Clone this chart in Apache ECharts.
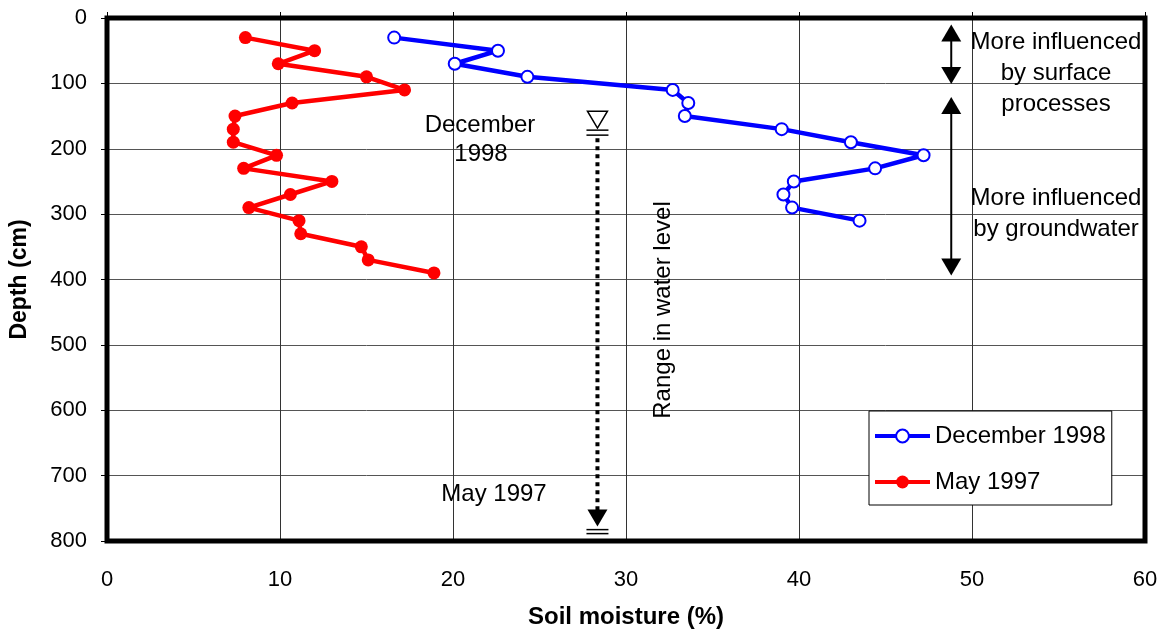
<!DOCTYPE html>
<html>
<head>
<meta charset="utf-8">
<script src="https://cdn.jsdelivr.net/npm/echarts@6/dist/echarts.min.js"></script>
<style>
html,body{margin:0;padding:0;background:#fff;}
#chart{width:1162px;height:634px;}
</style>
</head>
<body>
<div id="chart"></div>
<script>
// ---- data ----
const mayDepths = [30,50,70,90,110,130,150,170,190,210,230,250,270,290,310,330,350,370,390];
const mayMoisture = [8.0,12.0,9.9,15.0,17.2,10.7,7.4,7.3,7.3,9.8,7.9,13.0,10.6,8.2,11.1,11.2,14.7,15.1,18.9];
const decDepths = [30,50,70,90,110,130,150,170,190,210,230,250,270,290,310];
const decMoisture = [16.6,22.6,20.1,24.3,32.7,33.6,33.4,39.0,43.0,47.2,44.4,39.7,39.1,39.6,43.5];
const xTicks = [0,10,20,30,40,50,60];
const yTicks = [0,100,200,300,400,500,600,700,800];
const seriesNames = ['December 1998','May 1997'];
// annotation anchors (data units)
const waterX = 28.35;
const waterDec = 170;
const waterMay = 778;
const arrowX = 48.8;
const surfaceRange = [10, 101];
const groundRange = [121, 394];

const FONT = '"Liberation Sans", Arial, sans-serif';
const chart = echarts.init(document.getElementById('chart'), null, {renderer:'canvas'});

const decData = decDepths.map((d,i)=>[decMoisture[i], d]);
const mayData = mayDepths.map((d,i)=>[mayMoisture[i], d]);

chart.setOption({
  animation:false,
  backgroundColor:'#fff',
  grid:{left:104, right:17, top:18, bottom:89, show:true, borderColor:'#000', borderWidth:5, backgroundColor:'transparent', z:3},
  legend:{
    orient:'vertical', left:869, top:411,
    padding:[13,6,11,4],
    backgroundColor:'#fff', borderColor:'#000', borderWidth:1,
    itemWidth:55, itemHeight:16, itemGap:22,
    lineStyle:{width:4},
    textStyle:{fontFamily:FONT, fontSize:24, color:'#000', lineHeight:24},
    data:seriesNames
  },
  xAxis:[{
    type:'value', min:xTicks[0], max:xTicks[xTicks.length-1], interval:10, position:'bottom',
    axisLine:{show:false}, axisTick:{show:false},
    axisLabel:{fontFamily:FONT, fontSize:22, color:'#000', margin:28},
    splitLine:{show:true, lineStyle:{color:'#333', width:1}},
    name:'Soil moisture (%)', nameLocation:'middle', nameGap:64,
    nameTextStyle:{fontFamily:FONT, fontSize:24, fontWeight:'bold', color:'#000'}
  },{
    type:'value', min:xTicks[0], max:xTicks[xTicks.length-1], interval:10, position:'top',
    axisLine:{show:false}, axisTick:{show:true, length:6, lineStyle:{color:'#000'}},
    axisLabel:{show:false}, splitLine:{show:false}
  }],
  yAxis:{
    type:'value', inverse:true, min:yTicks[0], max:yTicks[yTicks.length-1], interval:100,
    axisLine:{show:false}, axisTick:{show:true, length:6, lineStyle:{color:'#000'}},
    axisLabel:{fontFamily:FONT, fontSize:22, color:'#000', margin:20},
    splitLine:{show:true, lineStyle:{color:'#555', width:1}},
    name:'Depth (cm)', nameLocation:'middle', nameGap:76, nameRotate:90,
    nameTextStyle:{fontFamily:FONT, fontSize:23, fontWeight:'bold', color:'#000'}
  },
  series:[{
    name:seriesNames[0], type:'line', data:decData,
    symbol:'emptyCircle', symbolSize:12, showAllSymbol:true,
    lineStyle:{color:'#0000ff', width:4.5},
    itemStyle:{color:'#0000ff', borderColor:'#0000ff', borderWidth:2.5},
    z:5
  },{
    name:seriesNames[1], type:'line', data:mayData,
    symbol:'circle', symbolSize:13, showAllSymbol:true,
    lineStyle:{color:'#ff0000', width:4.5},
    itemStyle:{color:'#ff0000'},
    z:5
  }]
});

function px(x){ return chart.convertToPixel({xAxisIndex:0}, x); }
function py(y){ return chart.convertToPixel({yAxisIndex:0}, y); }

const g = [];
function text(t, x, y, opts){
  g.push(Object.assign({type:'text', x:x, y:y, z:20,
    style:{text:t, font:'24px '+FONT, fill:'#000', textAlign:'center', textVerticalAlign:'middle'}}, opts||{}));
}
function line(x1,y1,x2,y2,w,dash){
  g.push({type:'line', z:20, shape:{x1:x1,y1:y1,x2:x2,y2:y2}, style:{stroke:'#000', lineWidth:w||1.5, lineDash:dash||null}});
}
function tri(x, yTip, dir, filled){
  // dir: +1 points down, -1 points up
  const h = 17*dir, w = 10;
  g.push({type:'polygon', z:20, shape:{points:[[x-w,yTip-h],[x+w,yTip-h],[x,yTip]]},
    style:{fill: filled ? '#000' : '#fff', stroke:'#000', lineWidth: filled ? 0 : 1.5}});
}

// water level symbols
const wx = px(waterX);
const yd = py(waterDec), ym = py(waterMay);
tri(wx, yd-1, 1, false);
line(wx-11, yd+1, wx+11, yd+1, 1.5);
line(wx-11, yd+6, wx+11, yd+6, 1.5);
line(wx, yd+9, wx, ym-14, 4, [4,4]);
tri(wx, ym, 1, true);
line(wx-11, ym+3, wx+11, ym+3, 1.5);
line(wx-11, ym+7, wx+11, ym+7, 1.5);

// double arrows on the right
const ax = px(arrowX);
[surfaceRange, groundRange].forEach(r=>{
  const y1 = py(r[0]), y2 = py(r[1]);
  line(ax, y1+10, ax, y2-10, 2);
  tri(ax, y1, -1, true);
  tri(ax, y2, 1, true);
});

// texts
text('December', 480, 125);
text('1998', 481, 154);
text('May 1997', 494, 494);
text('Range in water level', 663, 310, {rotation:Math.PI/2});
text('More influenced', 1056, 42);
text('by surface', 1056, 73);
text('processes', 1056, 104);
text('More influenced', 1056, 198);
text('by groundwater', 1056, 229);

chart.setOption({graphic:g});
</script>
</body>
</html>
